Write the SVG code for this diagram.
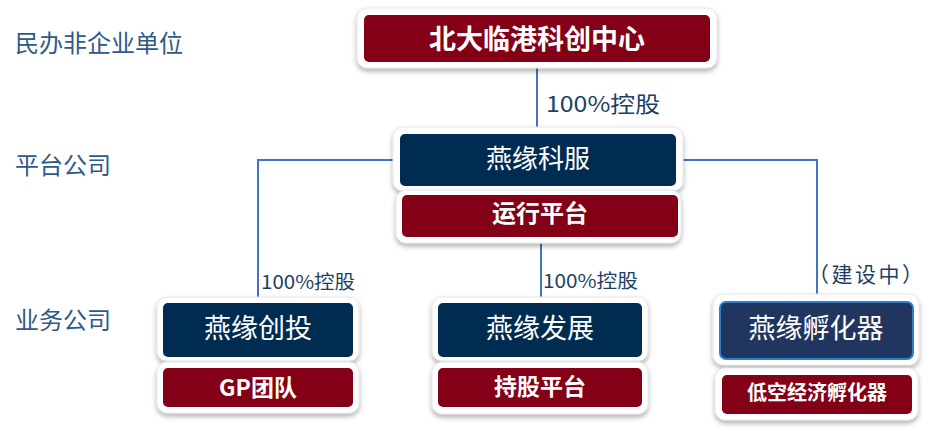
<svg xmlns="http://www.w3.org/2000/svg" width="942" height="434" viewBox="0 0 942 434">
<defs>
<filter id="sh" x="-10%" y="-20%" width="120%" height="150%">
<feDropShadow dx="0" dy="3" stdDeviation="2.5" flood-color="#000" flood-opacity="0.3"/>
</filter>
<style>
.frame{fill:#fff;stroke:#e6e6e6;stroke-width:1;filter:url(#sh)}
.navy{fill:#002c52}
.red{fill:#830016}
.hub{fill:#20365f;stroke:#2f7fcf;stroke-width:2}
.t{font-family:"Noto Sans CJK SC","Noto Sans",sans-serif;fill:#fff;text-anchor:middle}
.b{font-weight:bold}
.lab{font-family:"Noto Sans CJK SC","Noto Sans",sans-serif;fill:#2d5a88;font-size:24px}
.cl{font-family:"Noto Sans CJK SC","Noto Sans",sans-serif;fill:#1c3f66}
.ln{stroke:#4472c4;stroke-width:2;fill:none}
</style>
</defs>
<rect width="942" height="434" fill="#fff"/>
<g id="levels">
<text class="lab" x="15" y="52">民办非企业单位</text>
<text class="lab" x="15" y="174">平台公司</text>
<text class="lab" x="15" y="329">业务公司</text>
</g>
<g id="connectors">
<path class="ln" d="M537 66V130"/>
<path class="ln" d="M397 160H258V300"/>
<path class="ln" d="M680 160H817V300"/>
<path class="ln" d="M541 243V300"/>
<text class="cl" x="546" y="112" font-size="22" textLength="114" lengthAdjust="spacingAndGlyphs">100%控股</text>
<text class="cl" x="261" y="289" font-size="19" textLength="94" lengthAdjust="spacingAndGlyphs">100%控股</text>
<text class="cl" x="543" y="288" font-size="19" textLength="95" lengthAdjust="spacingAndGlyphs">100%控股</text>
<text class="cl" x="808" y="282" font-size="21" textLength="115">（建设中）</text>
</g>
<g id="n-top">
<rect class="frame" x="357" y="8" width="360" height="60" rx="10"/>
<rect class="red" x="364" y="15" width="346" height="47" rx="5"/>
<text class="t b" x="537" y="49" font-size="27">北大临港科创中心</text>
</g>
<g id="n-kefu">
<rect class="frame" x="393" y="127" width="290" height="64" rx="10"/>
<rect class="navy" x="400" y="134" width="276" height="52" rx="5"/>
<text class="t" x="538" y="168" font-size="26">燕缘科服</text>
</g>
<g id="n-yunxing">
<rect class="frame" x="396" y="190" width="285" height="53" rx="10"/>
<rect class="red" x="402" y="195" width="276" height="42" rx="5"/>
<text class="t b" x="540" y="222" font-size="24">运行平台</text>
</g>
<g id="n-chuangtou">
<rect class="frame" x="157" y="297" width="202" height="64" rx="10"/>
<rect class="navy" x="163" y="303" width="190" height="54" rx="5"/>
<text class="t" x="258" y="338" font-size="27">燕缘创投</text>
</g>
<g id="n-gp">
<rect class="frame" x="157" y="362" width="202" height="51" rx="10"/>
<rect class="red" x="163" y="368" width="190" height="39" rx="5"/>
<text class="t b" x="258" y="396" font-size="23">GP团队</text>
</g>
<g id="n-fazhan">
<rect class="frame" x="432" y="297" width="216" height="64" rx="10"/>
<rect class="navy" x="438" y="303" width="204" height="54" rx="5"/>
<text class="t" x="540" y="338" font-size="27">燕缘发展</text>
</g>
<g id="n-chigu">
<rect class="frame" x="432" y="362" width="216" height="52" rx="10"/>
<rect class="red" x="438" y="368" width="204" height="39" rx="5"/>
<text class="t b" x="540" y="395" font-size="23">持股平台</text>
</g>
<g id="n-fuhuaqi">
<rect class="frame" x="713" y="294" width="206" height="71" rx="10"/>
<rect class="hub" x="720" y="302" width="193" height="57" rx="6"/>
<text class="t" x="816" y="338" font-size="27">燕缘孵化器</text>
</g>
<g id="n-dikong">
<rect class="frame" x="715" y="368" width="203" height="52" rx="10"/>
<rect class="red" x="722" y="375" width="190" height="39" rx="5"/>
<text class="t b" x="817" y="400" font-size="20">低空经济孵化器</text>
</g>
</svg>
